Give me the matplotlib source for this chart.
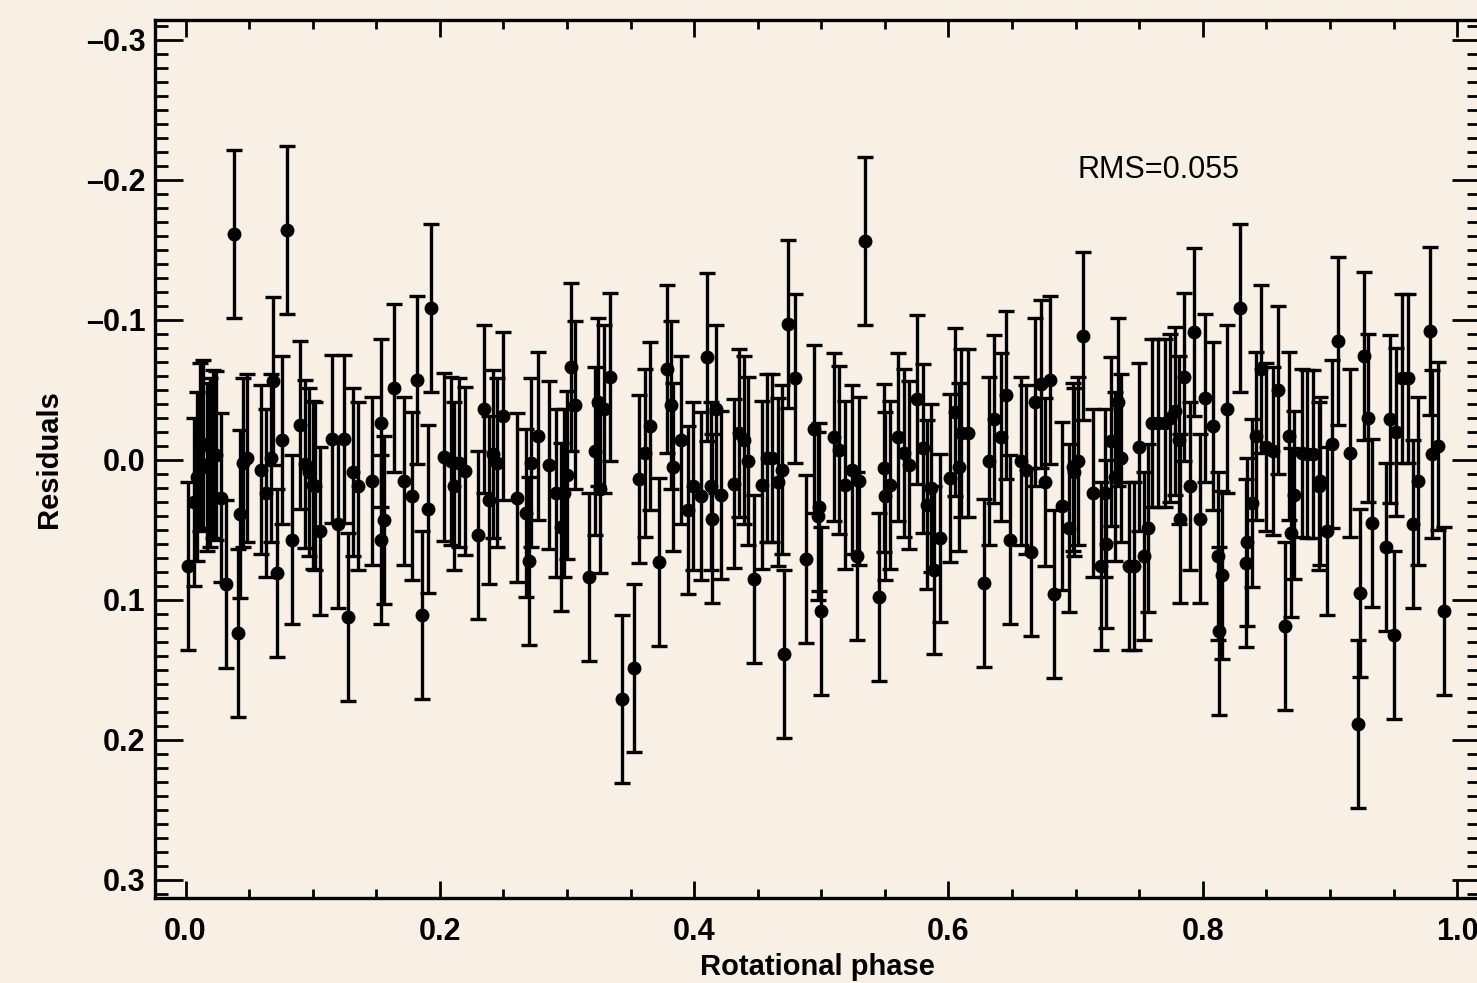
import numpy as np
import matplotlib
matplotlib.use("Agg")
import matplotlib.pyplot as plt
from matplotlib.ticker import MultipleLocator, FormatStrFormatter

# residuals
phase = [0.002, 0.007, 0.009, 0.011, 0.014, 0.017, 0.019, 0.022, 0.024, 0.028,
         0.032, 0.038, 0.041, 0.043, 0.045, 0.048, 0.059, 0.063, 0.067, 0.069,
         0.072, 0.076, 0.080, 0.084, 0.090, 0.094, 0.097, 0.100, 0.102, 0.106,
         0.115, 0.120, 0.125, 0.128, 0.132, 0.136, 0.147, 0.154, 0.154, 0.156,
         0.164, 0.172, 0.178, 0.182, 0.186, 0.191, 0.193, 0.203, 0.209, 0.211,
         0.215, 0.220, 0.230, 0.235, 0.239, 0.242, 0.245, 0.250, 0.261, 0.268,
         0.270, 0.272, 0.277, 0.286, 0.291, 0.295, 0.298, 0.300, 0.303, 0.306,
         0.317, 0.322, 0.324, 0.326, 0.329, 0.334, 0.343, 0.353, 0.357, 0.361,
         0.365, 0.372, 0.379, 0.382, 0.383, 0.390, 0.395, 0.399, 0.405, 0.410,
         0.413, 0.414, 0.417, 0.421, 0.431, 0.435, 0.439, 0.442, 0.447, 0.453,
         0.457, 0.461, 0.466, 0.469, 0.471, 0.474, 0.479, 0.488, 0.494, 0.497,
         0.498, 0.500, 0.510, 0.514, 0.519, 0.524, 0.528, 0.530, 0.534, 0.545,
         0.549, 0.550, 0.554, 0.560, 0.565, 0.569, 0.575, 0.580, 0.583, 0.586,
         0.589, 0.593, 0.601, 0.605, 0.608, 0.610, 0.615, 0.628, 0.632, 0.636,
         0.641, 0.645, 0.648, 0.657, 0.661, 0.665, 0.668, 0.673, 0.676, 0.680,
         0.683, 0.689, 0.695, 0.698, 0.699, 0.702, 0.706, 0.714, 0.720, 0.723,
         0.724, 0.728, 0.731, 0.733, 0.736, 0.742, 0.746, 0.750, 0.754, 0.757,
         0.760, 0.765, 0.770, 0.774, 0.778, 0.781, 0.782, 0.785, 0.790, 0.793,
         0.798, 0.802, 0.808, 0.812, 0.813, 0.815, 0.819, 0.829, 0.834, 0.835,
         0.839, 0.842, 0.846, 0.850, 0.855, 0.859, 0.865, 0.868, 0.869, 0.872,
         0.878, 0.882, 0.887, 0.891, 0.892, 0.898, 0.902, 0.906, 0.916, 0.922,
         0.924, 0.927, 0.930, 0.933, 0.944, 0.947, 0.950, 0.952, 0.957, 0.961,
         0.965, 0.969, 0.979, 0.980, 0.985, 0.990]

resid = [0.076, 0.030, 0.012, -0.009, -0.011, 0.005, 0.002, -0.004, -0.003, 0.027,
         0.089, -0.161, 0.124, 0.039, 0.002, -0.001, 0.007, 0.024, -0.001, -0.056,
         0.081, -0.014, -0.164, 0.057, -0.025, 0.003, 0.009, 0.018, 0.019, 0.051,
         -0.015, 0.046, -0.015, 0.112, 0.009, 0.019, 0.015, -0.026, 0.057, 0.043,
         -0.051, 0.015, 0.026, -0.057, 0.111, 0.035, -0.108, -0.002, 0.001, 0.019,
         0.002, 0.008, 0.054, -0.036, 0.029, -0.004, 0.002, -0.031, 0.027, 0.038,
         0.072, 0.002, -0.017, 0.004, 0.024, 0.048, 0.024, 0.011, -0.066, -0.039,
         0.084, -0.006, -0.041, 0.021, -0.036, -0.059, 0.171, 0.149, 0.014, -0.005,
         -0.024, 0.073, -0.065, -0.039, 0.005, -0.014, 0.036, 0.019, 0.026, -0.073,
         0.019, 0.042, -0.036, 0.025, 0.017, -0.019, -0.014, 0.001, 0.085, 0.018,
         -0.001, -0.001, 0.016, 0.007, 0.139, -0.097, -0.058, 0.071, -0.022, 0.040,
         0.034, 0.108, -0.016, -0.007, 0.018, 0.007, 0.069, 0.015, -0.156, 0.098,
         0.006, 0.026, 0.018, -0.016, -0.005, 0.004, -0.043, -0.008, 0.032, 0.020,
         0.079, 0.056, 0.013, -0.034, 0.005, -0.019, -0.019, 0.088, 0.001, -0.029,
         -0.016, -0.046, 0.057, 0.001, 0.007, 0.066, -0.041, -0.054, 0.016, -0.057,
         0.096, 0.033, 0.049, 0.005, 0.009, 0.001, -0.088, 0.024, 0.076, 0.024,
         0.060, -0.013, 0.012, -0.041, -0.001, 0.076, 0.076, -0.009, 0.069, 0.049,
         -0.026, -0.026, -0.026, -0.030, -0.035, -0.014, 0.042, -0.059, 0.019, -0.091,
         0.042, -0.044, -0.024, 0.069, 0.122, 0.082, -0.036, -0.108, 0.074, 0.059,
         0.031, -0.017, -0.065, -0.009, -0.006, -0.050, 0.119, -0.017, 0.052, 0.025,
         -0.005, -0.004, -0.004, 0.019, 0.015, 0.051, -0.011, -0.085, -0.005, 0.189,
         0.095, -0.074, -0.030, 0.045, 0.062, -0.029, 0.125, -0.020, -0.058, -0.058,
         0.046, 0.015, -0.092, -0.004, -0.010, 0.108]

err = 0.06
rms_text = "RMS=0.055"

bg = "#f8efe5"
plt.rcParams['font.family'] = ['Liberation Sans', 'DejaVu Sans']

fig = plt.figure(figsize=(14.77, 9.83), dpi=100, facecolor=bg)
ax = fig.add_axes([155 / 1477, 85 / 983, 1325 / 1477, 878 / 983])
ax.set_facecolor(bg)

ax.errorbar(phase, resid, yerr=err, fmt='o', color='black', ms=9,
            elinewidth=2.4, capsize=6, capthick=2.4)

ax.set_xlim(-0.024, 1.018)
ax.set_ylim(0.313, -0.314)

ax.xaxis.set_major_locator(MultipleLocator(0.2))
ax.xaxis.set_minor_locator(MultipleLocator(0.05))
ax.yaxis.set_major_locator(MultipleLocator(0.1))
ax.yaxis.set_minor_locator(MultipleLocator(0.01))
ax.xaxis.set_major_formatter(FormatStrFormatter('%.1f'))
ax.yaxis.set_major_formatter(plt.FuncFormatter(
    lambda v, p: '0.0' if abs(v) < 1e-9 else ('%.1f' % v).replace('-', '\u2013')))

ax.tick_params(which='both', direction='in', top=True, right=True, color='black')
ax.tick_params(axis='x', which='major', length=12, width=2, labelsize=22, pad=14)
ax.tick_params(axis='x', which='minor', length=6.5, width=2)
ax.tick_params(axis='y', which='major', length=20, width=2, labelsize=22, pad=7)
ax.tick_params(axis='y', which='minor', length=9.5, width=2)
for lab in ax.get_xticklabels() + ax.get_yticklabels():
    lab.set_fontweight('bold')

for s in ax.spines.values():
    s.set_linewidth(2.4)

ax.set_xlabel('Rotational phase', fontsize=21, fontweight='bold', labelpad=4)
ax.set_ylabel('Residuals', fontsize=21, fontweight='bold', labelpad=16)

ax.text(0.765, -0.207, rms_text, fontsize=22, ha='center', va='center')

fig.savefig('out.png', dpi=100, facecolor=bg)
